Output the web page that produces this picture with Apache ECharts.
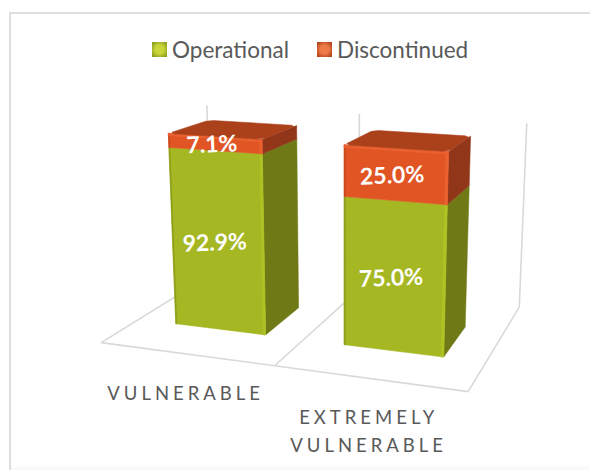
<!DOCTYPE html>
<html><head><meta charset="utf-8">
<style>html,body{margin:0;padding:0;background:#fff}#c{width:590px;height:470px}
svg text[fill="#595958"]{letter-spacing:4px}</style>
<script src="https://cdn.jsdelivr.net/npm/echarts@6/dist/echarts.min.js"></script>
</head><body><div id="c"></div>
<script>
const categories = ['VULNERABLE', 'EXTREMELY\nVULNERABLE'];
const operational = [92.9, 75.0];
const discontinued = [7.1, 25.0];
const seriesNames = ['Operational', 'Discontinued'];
const axisMax = 101.5;

// 3D camera fitted from the reference's floor and wall corners: [X, Y, Z] -> [px, py]
const anchors = [
  [0,0,0,101,343],[2,0,0,468,392],[2,0,1,518,308],[0,0,1,211,273],
  [0,100,1,207,106],[2,100,1,527,122],[1,100,1,359,114],[1,0,1,361,290],[1,0,0,275,365]
];
function fitCamera(pts){
  const A=[],b=[];
  pts.forEach(([X,Y,Z,u,v])=>{
    A.push([X,Y,Z,1,0,0,0,0,-u*X,-u*Y,-u*Z]);b.push(u);
    A.push([0,0,0,0,X,Y,Z,1,-v*X,-v*Y,-v*Z]);b.push(v);
  });
  const n=11,M=[];
  for(let i=0;i<n;i++){M[i]=[];for(let j=0;j<=n;j++){let s=0;
    for(let k=0;k<A.length;k++)s+=A[k][i]*(j<n?A[k][j]:b[k]);M[i][j]=s;}}
  for(let i=0;i<n;i++){let p=i;for(let r=i+1;r<n;r++)if(Math.abs(M[r][i])>Math.abs(M[p][i]))p=r;
    [M[i],M[p]]=[M[p],M[i]];
    for(let r=0;r<n;r++)if(r!==i){const f=M[r][i]/M[i][i];for(let c=i;c<=n;c++)M[r][c]-=f*M[i][c];}}
  return M.map((r,i)=>r[n]/r[i]);
}
const P=fitCamera(anchors);
function project(X,Y,Z){
  const w=P[8]*X+P[9]*Y+P[10]*Z+1;
  return [(P[0]*X+P[1]*Y+P[2]*Z+P[3])/w,(P[4]*X+P[5]*Y+P[6]*Z+P[7])/w];
}
const W=590,H=470,BAND=W/2;
// library pixel -> model space
const modelX=p=>p[0]/BAND, modelY=p=>(H-p[1])/H*100;

const HALF=0.273, SHIFT=0.005, Z0=0.30, Z1=0.665, BEV=0.014;
const palette=[
 {front:'#A5B722',edge:'#AFC325',dark:'#8E9E1C',side:'#6F7A17',top:'#7F8C1A'},
 {front:'#E15524',edge:'#EA6130',dark:'#C8481C',side:'#92361A',top:'#AB411B'}
];
function poly(points,fill){
  return {type:'polygon',shape:{points},style:{fill,stroke:fill,lineWidth:0.5}};
}
function makeRender(k){
  return function(params,api){
    const i=api.value(0), v=api.value(1);
    const base=k===0?0:operational[i];
    const pa=api.coord([i,base]), pb=api.coord([i,base+v]);
    const cx=modelX(pa)+SHIFT, x0=cx-HALF, x1=cx+HALF;
    const y0=modelY(pa), y1=modelY(pb);
    const c=palette[k];
    const ch=[];
    const isTop=k===1;
    // side
    ch.push(poly([project(x1,y0,Z0),project(x1,y0,Z1),project(x1,y1,Z1),project(x1,y1,Z0)],c.side));
    // front
    ch.push(poly([project(x0,y0,Z0),project(x1,y0,Z0),project(x1,y1,Z0),project(x0,y1,Z0)],c.front));
    // bevel strips on the front
    ch.push(poly([project(x1-BEV,y0,Z0),project(x1,y0,Z0),project(x1,y1,Z0),project(x1-BEV,y1,Z0)],c.edge));
    ch.push(poly([project(x0,y0,Z0),project(x0+BEV*0.5,y0,Z0),project(x0+BEV*0.5,y1,Z0),project(x0,y1,Z0)],c.dark));
    if(isTop){
      const e=1.2;
      ch.push(poly([project(x0,y1-e,Z0),project(x1,y1-e,Z0),project(x1,y1,Z0),project(x0,y1,Z0)],c.edge));
      // top with clipped corners
      const b=0.03;
      ch.push(poly([project(x0+b,y1,Z0),project(x1-b,y1,Z0),project(x1,y1,Z0+b),project(x1,y1,Z1-b),
        project(x1-b,y1,Z1),project(x0+b,y1,Z1),project(x0,y1,Z1-b),project(x0,y1,Z0+b)],c.top));
    }
    const lp=project(cx-0.017,(y0+y1)/2,Z0);
    ch.push({type:'text',x:lp[0],y:lp[1],rotation:0.04,z2:10,
      style:{text:v.toFixed(1)+'%',x:0,y:0,align:'center',verticalAlign:'middle',fill:'#FFFFFF',
        font:'bold 23px Lato'}});
    return {type:'group',children:ch};
  };
}
function renderFrame(params,api){
  if(params.dataIndex!==0) return null;
  const line=(a,b)=>({type:'line',shape:{x1:a[0],y1:a[1],x2:b[0],y2:b[1]},
    style:{stroke:'#D9D9D9',lineWidth:1.6}});
  const bottom=modelY(api.coord([0,0])), top=modelY(api.coord([0,axisMax]));
  const left=modelX(api.coord([0,0]))-0.5, mid=left+1, right=left+2;
  return {type:'group',children:[
    line(project(left,bottom,0),project(right,bottom,0)),
    line(project(left,bottom,0),project(left,bottom,1)),
    line(project(mid,bottom,0),project(mid,bottom,1)),
    line(project(right,bottom,0),project(right,bottom,1)),
    line(project(left,bottom,1),project(left,top,1)),
    line(project(mid,bottom,1),project(mid,top,1)),
    line(project(right,bottom,1),project(right,top,1))
  ]};
}
function renderCategory(params,api){
  const i=api.value(0);
  const p=api.coord([i,0]);
  const a=project(modelX(p),0,0);
  return {type:'text',x:a[0],y:a[1]+25,
    style:{text:categories[i],x:0,y:0,align:'center',verticalAlign:'top',fill:'#595958',
      font:'18.5px Lato',lineHeight:27.5}};
}
const legendFill=(mid,edge)=>({type:'radial',x:.5,y:.5,r:.62,
  colorStops:[{offset:0,color:mid},{offset:.45,color:mid},{offset:1,color:edge}]});
const chart=echarts.init(document.getElementById('c'),null,{renderer:'svg'});
chart.setOption({
  animation:false,
  backgroundColor:'#fff',
  graphic:[
    {type:'rect',silent:true,z:-1,shape:{x:9,y:12,width:2,height:458},style:{fill:'#DEDEDE'}},
    {type:'rect',silent:true,z:-1,shape:{x:9,y:12,width:581,height:2},style:{fill:'#DEDEDE'}},
    {type:'rect',silent:true,z:-1,shape:{x:11,y:464,width:579,height:6},
      style:{fill:{type:'linear',x:0,y:0,x2:0,y2:1,colorStops:[{offset:0,color:'#FFFFFF'},{offset:1,color:'#F8F8F8'}]}}}
  ],
  legend:{data:seriesNames,left:147,top:33,itemWidth:15,itemHeight:15,itemGap:28,icon:'rect',
    textStyle:{fontFamily:'Lato',fontSize:22.5,color:'#595959'}},
  grid:{left:0,top:0,width:W,height:H},
  xAxis:{type:'category',data:categories,show:false},
  yAxis:{type:'value',min:0,max:axisMax,show:false},
  series:[
    {type:'custom',name:'frame',silent:true,data:[[0,0]],renderItem:renderFrame,encode:{x:0,y:1},z:1},
    {type:'custom',name:'category',silent:true,data:categories.map((_,i)=>[i,0]),renderItem:renderCategory,encode:{x:0,y:1},z:1},
    {type:'custom',name:seriesNames[0],data:operational.map((v,i)=>[i,v]),renderItem:makeRender(0),encode:{x:0,y:1},z:2,
      itemStyle:{color:legendFill('#C9D53A','#8C9C1C')}},
    {type:'custom',name:seriesNames[1],data:discontinued.map((v,i)=>[i,v]),renderItem:makeRender(1),encode:{x:0,y:1},z:3,
      itemStyle:{color:legendFill('#EE7A48','#B0431C')}}
  ]
});
</script></body></html>
